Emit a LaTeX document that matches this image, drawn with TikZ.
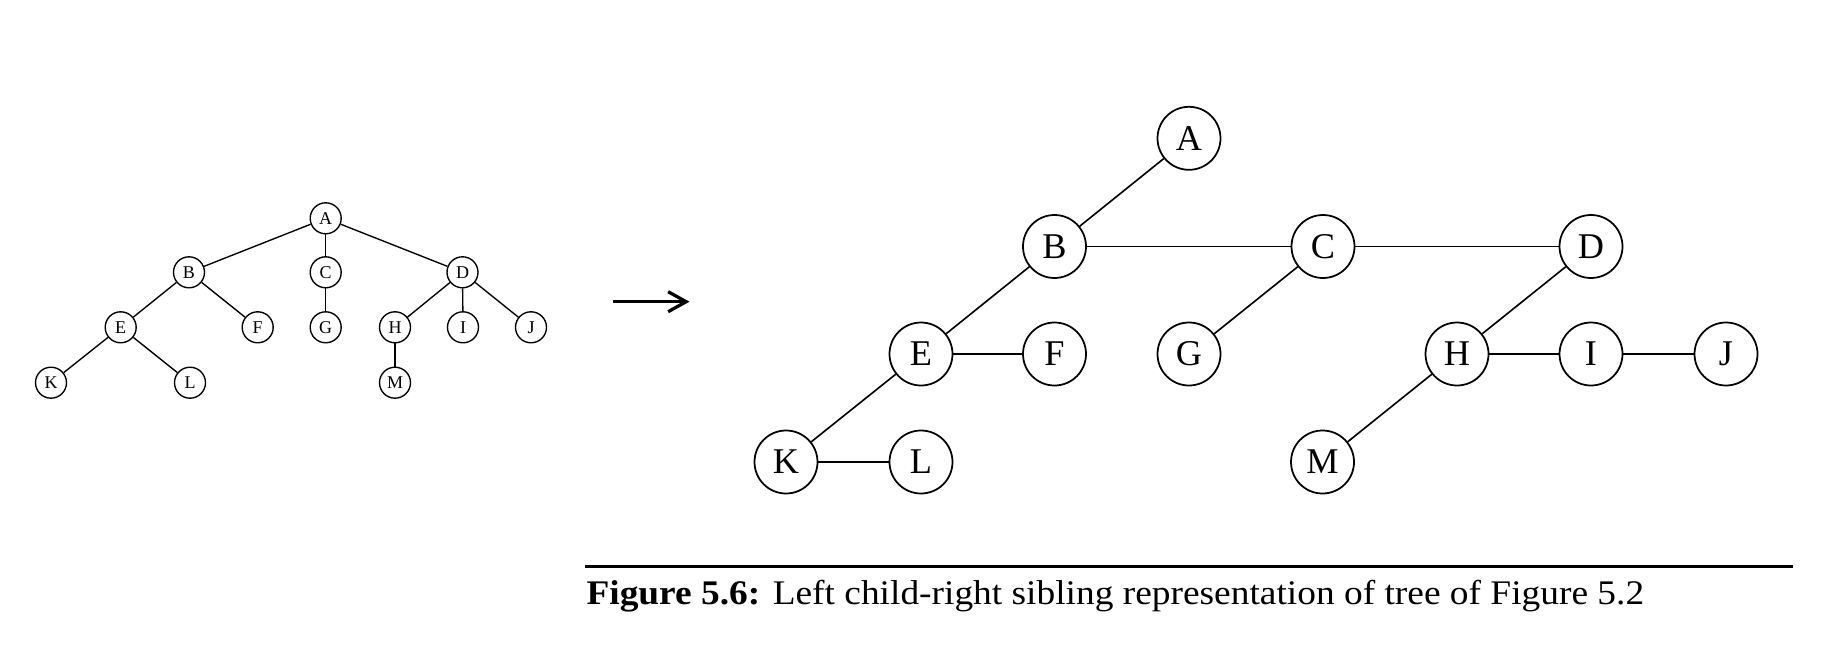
\documentclass[tikz,border=0pt]{standalone}
\usepackage{fontspec}
\setmainfont{Liberation Serif}
\usetikzlibrary{arrows.meta}
\begin{document}
\begin{tikzpicture}[x=0.4pt,y=-0.4pt,
  bignode/.style={circle,draw,line width=0.7pt,minimum size=25.2pt,inner sep=0pt,font=\fontsize{14.5}{16}\selectfont},
  smallnode/.style={circle,draw,line width=0.55pt,minimum size=12.4pt,inner sep=0pt,font=\fontsize{7.2}{8}\selectfont},
  bigedge/.style={line width=0.65pt},
  smalledge/.style={line width=0.55pt}]
\useasboundingbox (0,0) rectangle (1834,660);
% ---------- left tree ----------
\node[smallnode] (lA) at (325.7,218.3) {A};
\node[smallnode] (lB) at (189,272.3) {B};
\node[smallnode] (lC) at (325.7,272.3) {C};
\node[smallnode] (lD) at (462.5,272.3) {D};
\node[smallnode] (lE) at (120.7,327.3) {E};
\node[smallnode] (lF) at (257.7,327.3) {F};
\node[smallnode] (lG) at (325.7,327.3) {G};
\node[smallnode] (lH) at (395,327.3) {H};
\node[smallnode] (lI) at (463,327.3) {I};
\node[smallnode] (lJ) at (531,327.3) {J};
\node[smallnode] (lK) at (51,382.7) {K};
\node[smallnode] (lL) at (190,382.7) {L};
\node[smallnode] (lM) at (395,382.7) {M};
\draw[smalledge] (lA) -- (lB);
\draw[smalledge] (lA) -- (lC);
\draw[smalledge] (lA) -- (lD);
\draw[smalledge] (lB) -- (lE);
\draw[smalledge] (lB) -- (lF);
\draw[smalledge] (lC) -- (lG);
\draw[smalledge] (lD) -- (lH);
\draw[smalledge] (lD) -- (lI);
\draw[smalledge] (lD) -- (lJ);
\draw[smalledge] (lE) -- (lK);
\draw[smalledge] (lE) -- (lL);
\draw[smalledge] (lH) -- (lM);
% ---------- arrow ----------
\coordinate (arS) at (612.7,301.7);
\coordinate (arE) at (689.5,301.7);
\draw[line width=1.3pt,-{Straight Barb[length=7.2pt,width=8pt,line width=1.3pt]}] (arS) -- (arE);
% ---------- right tree ----------
\node[bignode] (rA) at (1189,138.3) {A};
\node[bignode] (rB) at (1054.5,246.5) {B};
\node[bignode] (rC) at (1323,246.5) {C};
\node[bignode] (rD) at (1591,246.5) {D};
\node[bignode] (rE) at (921,354) {E};
\node[bignode] (rF) at (1054.5,354) {F};
\node[bignode] (rG) at (1189,354) {G};
\node[bignode] (rH) at (1457,354) {H};
\node[bignode] (rI) at (1591,354) {I};
\node[bignode] (rJ) at (1726,354) {J};
\node[bignode] (rK) at (786,462) {K};
\node[bignode] (rL) at (921,462) {L};
\node[bignode] (rM) at (1322.5,462) {M};
\draw[bigedge] (rA) -- (rB);
\draw[bigedge] (rB) -- (rC);
\draw[bigedge] (rC) -- (rD);
\draw[bigedge] (rB) -- (rE);
\draw[bigedge] (rE) -- (rF);
\draw[bigedge] (rC) -- (rG);
\draw[bigedge] (rD) -- (rH);
\draw[bigedge] (rH) -- (rI);
\draw[bigedge] (rI) -- (rJ);
\draw[bigedge] (rE) -- (rK);
\draw[bigedge] (rK) -- (rL);
\draw[bigedge] (rH) -- (rM);
% ---------- caption ----------
\coordinate (ruleS) at (585,566.7);
\coordinate (ruleE) at (1793,566.7);
\draw[line width=1.1pt] (ruleS) -- (ruleE);
\node[anchor=base west,inner sep=0pt,font=\fontsize{13.8}{15}\selectfont] (cap) at (586,604.3)
  {\scalebox{1.084}[1]{\textbf{Figure 5.6:} Left child-right sibling representation of tree of Figure 5.2}};
\end{tikzpicture}
\end{document}
